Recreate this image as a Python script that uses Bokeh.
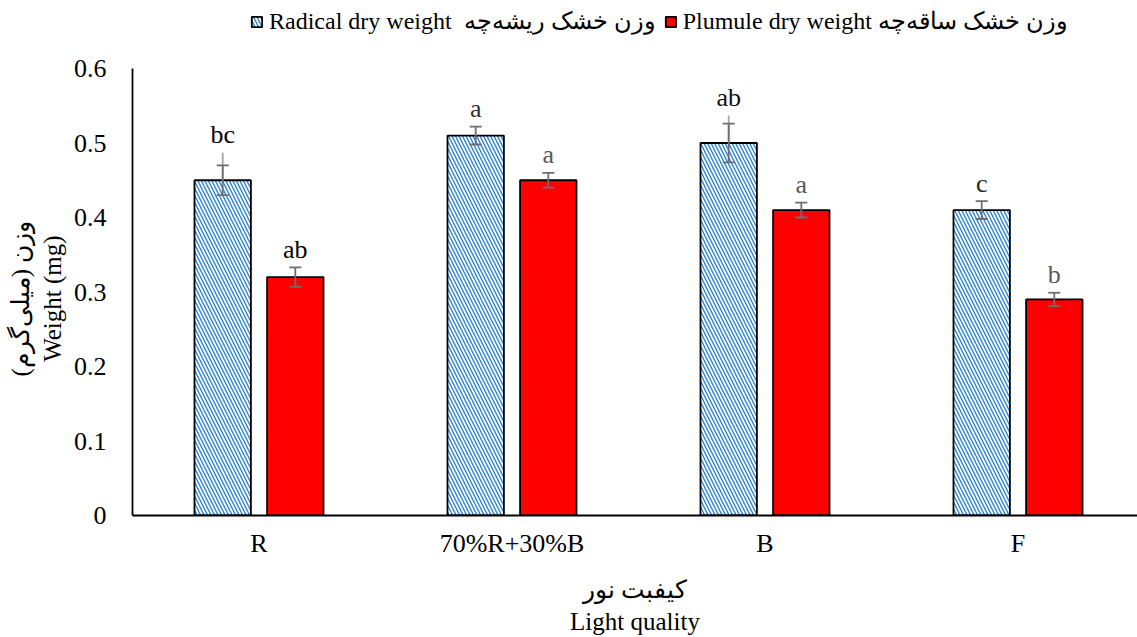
from bokeh.plotting import figure
from bokeh.models import (ColumnDataSource, Range1d, FixedTicker, Whisker, TeeHead,
                          Legend, LegendItem)
from bokeh.core.properties import value
from bokeh.embed import file_html
from bokeh.resources import INLINE

# ---------------- data ----------------
categories = ["R", "70%R+30%B", "B", "F"]
radical = [0.45, 0.51, 0.50, 0.41]
plumule = [0.32, 0.45, 0.41, 0.29]
radical_err = [0.02, 0.012, 0.026, 0.012]
plumule_err = [0.013, 0.010, 0.010, 0.009]
radical_err_ext = [0.037, 0.0, 0.037, 0.0]
radical_letters = ["bc", "a", "ab", "c"]
plumule_letters = ["ab", "a", "a", "b"]
y_ticks = [0, 0.1, 0.2, 0.3, 0.4, 0.5, 0.6]
y_tick_labels = ["0", "0.1", "0.2", "0.3", "0.4", "0.5", "0.6"]

legend_radical = "Radical dry weight  وزن خشک ریشه‌چه"
legend_plumule = "Plumule dry weight وزن خشک ساقه‌چه"
x_title = "کیفبت نور\nLight quality"
y_title_lines = ["وزن (میلی‌گرم)", "Weight (mg)"]

# ---------------- style ----------------
FONT = "Liberation Serif"
BAR_W = 0.223
OFF = 0.1435
LETTER_PAD = 0.024
radical_letter_colors = ["#000000", "#333333", "#111111", "#262626"]
plumule_letter_colors = ["#000000", "#595959", "#595959", "#595959"]
PAD_NBSP = "\u00a0" * 13   # shifts the rotated title down to centre it on 0..0.6

centers = [i + 0.5 for i in range(len(categories))]

rad_src = ColumnDataSource(dict(
    x=[c - OFF for c in centers],
    top=radical,
    upper=[v + e for v, e in zip(radical, radical_err)],
    lower=[v - e for v, e in zip(radical, radical_err)],
    ext=[v + e for v, e in zip(radical, radical_err_ext)],
    ly=[v + max(e, x) + LETTER_PAD for v, e, x in zip(radical, radical_err, radical_err_ext)],
    letter=radical_letters,
    color=radical_letter_colors,
))
plu_src = ColumnDataSource(dict(
    x=[c + OFF for c in centers],
    top=plumule,
    upper=[v + e for v, e in zip(plumule, plumule_err)],
    lower=[v - e for v, e in zip(plumule, plumule_err)],
    ly=[v + e + LETTER_PAD for v, e in zip(plumule, plumule_err)],
    letter=plumule_letters,
    color=plumule_letter_colors,
))

# frame covers the legend strip too; the y axis itself is bounded to 0..0.6
FW, FH = 1005, 515
BL, BB = 132, 122
PX_PER_UNIT = 745.0
cat_px = 253.0
y_max = y_ticks[-1]

p = figure(frame_width=FW, frame_height=FH, output_backend="svg", toolbar_location=None,
           x_range=Range1d(0, FW / cat_px), y_range=Range1d(0, FH / PX_PER_UNIT),
           min_border_left=BL, min_border_right=0, min_border_top=0,
           min_border_bottom=BB)
p.outline_line_color = None
p.grid.visible = False
p.background_fill_color = "white"

r_rad = p.vbar(x="x", top="top", width=BAR_W, source=rad_src,
               fill_color="white", hatch_pattern="\\", hatch_color="#2a84d6",
               hatch_scale=7, hatch_weight=1.4,
               line_color="black", line_width=1.8)
r_plu = p.vbar(x="x", top="top", width=BAR_W, source=plu_src,
               fill_color="#ff0000", line_color="black", line_width=1.8)

# lighter extension of the radical error bars
p.segment(x0="x", y0="top", x1="x", y1="ext", source=rad_src,
          line_color="#a6a6a6", line_width=1.8)

for src in (rad_src, plu_src):
    w = Whisker(base="x", upper="upper", lower="lower", source=src, level="annotation",
                dimension="height", line_color="#6e6e6e", line_width=1.8,
                upper_head=TeeHead(size=12, line_color="#6e6e6e", line_width=1.8),
                lower_head=TeeHead(size=12, line_color="#6e6e6e", line_width=1.8))
    p.add_layout(w)
    p.text(x="x", y="ly", text="letter", source=src, text_color="color",
           text_align="center", text_baseline="alphabetic",
           text_font=value(FONT), text_font_size="26px")

# axes
p.xaxis.ticker = FixedTicker(ticks=centers)
p.xaxis.major_label_overrides = {c: lab for c, lab in zip(centers, categories)}
p.yaxis.ticker = FixedTicker(ticks=y_ticks)
p.yaxis.major_label_overrides = {t: lab for t, lab in zip(y_ticks, y_tick_labels)}
p.yaxis.bounds = (0, y_max)

for ax in (p.xaxis[0], p.yaxis[0]):
    ax.axis_line_color = "black"
    ax.axis_line_width = 1.8
    ax.major_tick_line_color = None
    ax.minor_tick_line_color = None
    ax.major_label_text_font = FONT
    ax.major_label_text_font_size = "26px"
    ax.major_label_text_color = "black"
    ax.axis_label_text_font = FONT
    ax.axis_label_text_font_size = "25px"
    ax.axis_label_text_font_style = "normal"
    ax.axis_label_text_color = "black"

p.xaxis.major_label_standoff = 7
p.xaxis.axis_label_standoff = 15
p.xaxis.axis_label = x_title
p.yaxis.major_label_standoff = 20
p.yaxis.axis_label_standoff = 5
p.yaxis.axis_label = "\n".join(line + PAD_NBSP for line in y_title_lines)

legend = Legend(items=[LegendItem(label=legend_radical, renderers=[r_rad]),
                       LegendItem(label=legend_plumule, renderers=[r_plu])],
                orientation="horizontal", location=(118, FH - 35),
                padding=2, margin=0, spacing=8, label_standoff=6,
                glyph_width=13, glyph_height=13,
                border_line_color=None, background_fill_alpha=0,
                label_text_font=FONT, label_text_font_size="24px",
                label_text_color="black")
p.add_layout(legend)

open("out.html", "w").write(file_html(p, INLINE))
